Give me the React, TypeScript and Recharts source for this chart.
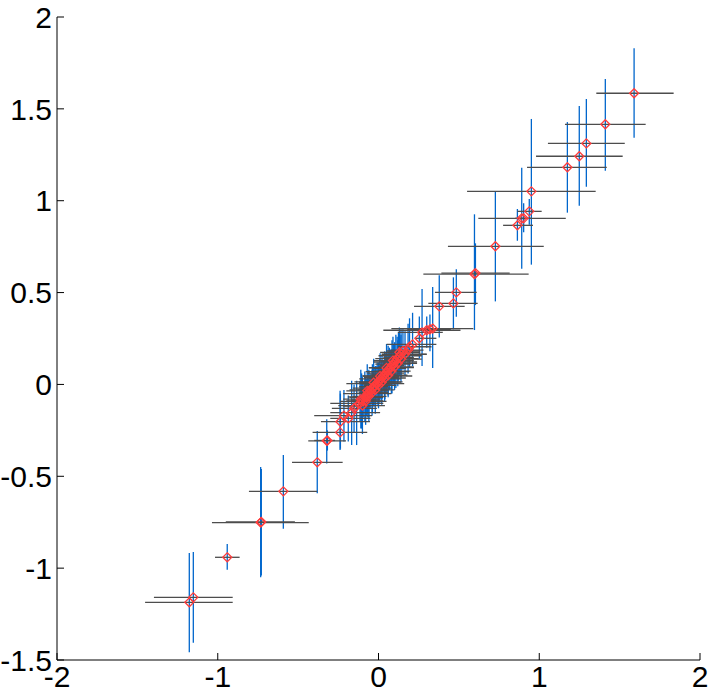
import { ErrorBar, Scatter, ScatterChart, XAxis, YAxis } from "recharts";

// point centres
const ptX = [
  1.59, 1.411, 1.293, 1.249, 1.175, 0.951, 0.938, 0.891, 0.903, 0.864, 0.727, 0.597, 0.603, 0.484, 0.466, 0.378,
  -0.322, -0.318, -0.381, -0.592, -0.733, -0.729, -0.941, -1.152, -1.177,
  -0.239, -0.237, -0.215, -0.188, -0.167, -0.152, -0.136, -0.115, -0.105, -0.095, -0.085, -0.076, -0.068, -0.06,
  -0.052, -0.045, -0.038, -0.03, -0.022, -0.015, -0.008, 0.0, 0.008, 0.015, 0.022, 0.03, 0.038, 0.045, 0.052,
  0.06, 0.068, 0.076, 0.084, 0.092, 0.1, 0.108, 0.116, 0.124, 0.132, 0.14, 0.152, 0.165, 0.184, 0.193, 0.212,
  0.254, 0.271, 0.3, 0.32, 0.337,
  -0.1, -0.08, -0.06, -0.04, -0.02, 0.0, 0.02, 0.04, 0.06, 0.08, 0.1, 0.12, 0.14,
  -0.11, -0.07, -0.03, 0.01, 0.05, 0.09, 0.13,
];
const ptY = [
  1.585, 1.416, 1.312, 1.242, 1.182, 1.051, 0.942, 0.904, 0.904, 0.866, 0.752, 0.6, 0.606, 0.501, 0.441, 0.425,
  -0.307, -0.305, -0.424, -0.582, -0.752, -0.748, -0.941, -1.159, -1.186,
  -0.261, -0.203, -0.17, -0.185, -0.154, -0.13, -0.118, -0.103, -0.085, -0.092, -0.068, -0.07, -0.05, -0.048,
  -0.03, -0.036, -0.02, -0.012, -0.01, 0.004, 0.002, 0.014, 0.02, 0.03, 0.038, 0.046, 0.052, 0.062, 0.07,
  0.076, 0.088, 0.092, 0.104, 0.11, 0.122, 0.128, 0.14, 0.146, 0.156, 0.164, 0.182, 0.165, 0.187, 0.205, 0.218,
  0.251, 0.283, 0.295, 0.3, 0.304,
  -0.115, -0.09, -0.065, -0.045, -0.03, -0.005, 0.012, 0.035, 0.05, 0.072, 0.095, 0.115, 0.138,
  -0.08, -0.035, 0.01, 0.045, 0.09, 0.13, 0.175,
];
// horizontal error bar ends
const xLow = [
  1.355, 1.16, 1.054, 0.98, 0.924, 0.551, 0.864, 0.621, 0.85, 0.775, 0.432, 0.279, 0.391, 0.351, 0.31, 0.221,
  -0.437, -0.4, -0.538, -0.806, -1.036, -0.95, -1.017, -1.397, -1.452,
  -0.41, -0.358, -0.4, -0.3, -0.3, -0.29, -0.22, -0.3, -0.17, -0.24, -0.19, -0.18, -0.22, -0.14,
  -0.18, -0.1, -0.16, -0.12, -0.09, -0.2, -0.1, -0.15, -0.06, -0.12, -0.09, -0.1, -0.05, -0.07, -0.08,
  0.0, -0.03, -0.06, 0.01, -0.02, -0.03, 0.02, -0.02, 0.03, 0.0, 0.02, 0.05, 0.02, 0.08, 0.12, 0.05,
  0.23, 0.12, 0.03, 0.18, 0.08,
  -0.25, -0.2, -0.16, -0.12, -0.13, -0.09, -0.1, -0.06, -0.04, -0.03, 0.0, 0.03, 0.04,
  -0.22, -0.2, -0.12, -0.1, -0.06, -0.03, 0.01,
];
const xHigh = [
  1.836, 1.662, 1.532, 1.519, 1.42, 1.351, 1.015, 1.165, 0.95, 0.961, 1.028, 0.934, 0.816, 0.611, 0.617, 0.536,
  -0.202, -0.27, -0.223, -0.381, -0.434, -0.52, -0.864, -0.907, -0.907,
  -0.07, -0.053, -0.04, -0.05, 0.01, -0.01, -0.05, 0.03, -0.02, 0.05, 0.0, 0.03, 0.08, 0.02,
  0.06, 0.01, 0.08, 0.06, 0.04, 0.16, 0.08, 0.15, 0.07, 0.14, 0.12, 0.21, 0.12, 0.16, 0.19,
  0.12, 0.17, 0.22, 0.16, 0.2, 0.24, 0.2, 0.25, 0.22, 0.27, 0.3, 0.26, 0.3, 0.28, 0.33, 0.36,
  0.36, 0.4, 0.51, 0.45, 0.59,
  0.04, 0.03, 0.05, 0.06, 0.1, 0.11, 0.14, 0.17, 0.18, 0.2, 0.22, 0.24, 0.27,
  0.01, 0.06, 0.07, 0.13, 0.17, 0.22, 0.26,
];
// vertical error bar ends
const yLow = [
  1.343, 1.163, 1.076, 0.973, 0.935, 0.652, 0.869, 0.63, 0.828, 0.782, 0.452, 0.296, 0.432, 0.369, 0.3, 0.256,
  -0.43, -0.36, -0.593, -0.785, -1.05, -1.04, -1.009, -1.406, -1.458,
  -0.357, -0.35, -0.31, -0.31, -0.33, -0.26, -0.33, -0.2, -0.24, -0.18, -0.2, -0.17, -0.16, -0.18,
  -0.13, -0.1, -0.15, -0.1, -0.12, -0.09, -0.11, -0.08, -0.1, -0.05, -0.08, -0.04, -0.09, -0.05, -0.02,
  -0.06, -0.03, 0.0, -0.05, 0.0, 0.02, -0.02, 0.03, 0.02, 0.05, 0.04, 0.08, 0.05, 0.06, 0.09, 0.1,
  0.14, 0.1, 0.2, 0.18, 0.09,
  -0.27, -0.22, -0.2, -0.17, -0.16, -0.13, -0.11, -0.08, -0.07, -0.05, -0.03, -0.01, 0.01,
  -0.24, -0.18, -0.12, -0.08, -0.04, 0.0, 0.05,
];
const yHigh = [
  1.83, 1.662, 1.554, 1.515, 1.428, 1.445, 1.009, 1.18, 0.986, 0.955, 1.051, 0.926, 0.768, 0.627, 0.583, 0.594,
  -0.19, -0.25, -0.254, -0.384, -0.45, -0.46, -0.869, -0.912, -0.918,
  -0.034, -0.05, -0.03, -0.06, 0.02, 0.0, 0.02, 0.02, 0.06, 0.0, 0.07, 0.03, 0.05, 0.08,
  0.06, 0.04, 0.11, 0.07, 0.09, 0.1, 0.12, 0.1, 0.14, 0.11, 0.16, 0.13, 0.18, 0.17, 0.15,
  0.21, 0.2, 0.19, 0.24, 0.22, 0.23, 0.27, 0.26, 0.28, 0.26, 0.3, 0.3, 0.29, 0.33, 0.36, 0.39,
  0.37, 0.52, 0.37, 0.38, 0.53,
  0.04, 0.04, 0.07, 0.08, 0.1, 0.12, 0.13, 0.15, 0.17, 0.19, 0.22, 0.24, 0.27,
  0.08, 0.11, 0.14, 0.17, 0.22, 0.26, 0.31,
];

const xTicks = [-2, -1, 0, 1, 2];
const yTicks = [-1.5, -1, -0.5, 0, 0.5, 1, 1.5, 2];

const data = ptX.map((x, i) => ({
  x,
  y: ptY[i],
  ex: [x - xLow[i], xHigh[i] - x],
  ey: [ptY[i] - yLow[i], yHigh[i] - ptY[i]],
}));

const font = "'Liberation Sans', Arial, sans-serif";

function Diamond(props: any) {
  const { cx, cy } = props;
  const r = 4.5;
  return (
    <path
      d={`M${cx},${cy - r}L${cx + r},${cy}L${cx},${cy + r}L${cx - r},${cy}Z`}
      fill="none"
      stroke="#ff3c3c"
      strokeWidth={1.3}
    />
  );
}

export default function App() {
  return (
    <div style={{ position: "absolute", left: 0, top: 0, width: 712, height: 694, background: "#fff" }}>
      <ScatterChart width={712} height={694} margin={{ top: 17, right: 12, bottom: 0, left: 0 }}>
        <XAxis
          type="number"
          dataKey="x"
          domain={[-2, 2]}
          ticks={xTicks}
          interval={0}
          height={34}
          tickSize={-7}
          tickMargin={13}
          stroke="#000"
          tick={{ fill: "#000", fontSize: 30, fontFamily: font }}
        />
        <YAxis
          type="number"
          dataKey="y"
          domain={[-1.5, 2]}
          ticks={yTicks}
          interval={0}
          width={57}
          tickSize={-7}
          tickMargin={12}
          stroke="#000"
          tick={{ fill: "#000", fontSize: 30, fontFamily: font }}
        />
        <Scatter data={data} shape={Diamond} isAnimationActive={false}>
          <ErrorBar dataKey="ey" direction="y" width={0} stroke="#0066cc" strokeWidth={1.3} />
          <ErrorBar dataKey="ex" direction="x" width={0} stroke="#4d4d4d" strokeWidth={1.3} />
        </Scatter>
      </ScatterChart>
    </div>
  );
}
